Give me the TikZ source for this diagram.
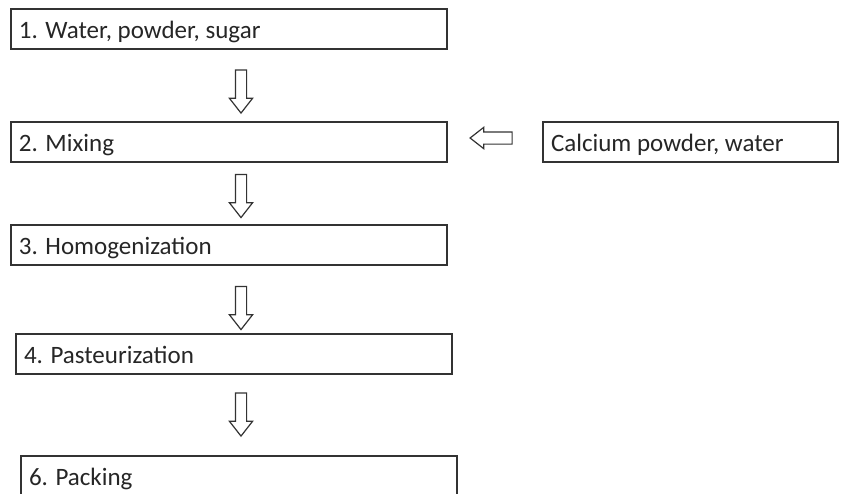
\documentclass[tikz,border=0pt]{standalone}
\usepackage{fontspec}
\setmainfont{Carlito}
\usetikzlibrary{shapes.arrows}
\tikzstyle{box} = [rectangle, draw=black!80, line width=1.5pt, minimum height=40pt, text width=420pt, text height=21pt, text depth=2pt, inner xsep=8pt, align=flush left, font=\fontsize{25}{29}\selectfont, text=black!85]
\tikzstyle{flow} = [single arrow, draw=black!80, line width=1.2pt, fill=white, inner sep=5pt, single arrow head extend=6pt, single arrow tip angle=76]

\begin{document}
\begin{tikzpicture}[x=1pt, y=-1pt]
        \clip (0,0) rectangle (841,493);
        \fill [white] (0,0) rectangle (841,493);

        % Steps
        \node (water) [box] at (229,29) {1. Water, powder, sugar};
        \node (mixing) [box] at (229,142) {2. Mixing};
        \node (homog) [box] at (229,245) {3. Homogenization};
        \node (pasteur) [box] at (234,354) {4. Pasteurization};
        \node (packing) [box] at (239,476) {6. Packing};
        \node (calcium) [box, text width=279pt] at (690.5,142) {Calcium powder, water};

        % Arrows
        \node (flowA) [flow, minimum height=43pt, shape border rotate=270] at (241,88) {};
        \node (flowB) [flow, minimum height=43pt, shape border rotate=270] at (241,192.5) {};
        \node (flowC) [flow, minimum height=43pt, shape border rotate=270] at (241,304.5) {};
        \node (flowD) [flow, minimum height=43pt, shape border rotate=270] at (241,411) {};
        \node (flowE) [flow, minimum height=42pt, inner sep=5.5pt, single arrow head extend=4.5pt, shape border rotate=180] at (495,138) {};

\end{tikzpicture}
\end{document}
